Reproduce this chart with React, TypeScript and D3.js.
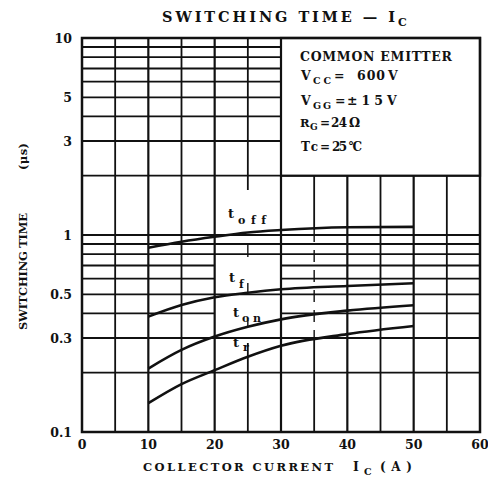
import React from "react";
import * as d3 from "d3";

const current = [10, 15, 20, 25, 30, 40, 50];
const tOff = [0.862, 0.925, 0.98, 1.03, 1.06, 1.094, 1.1];
const tF = [0.385, 0.441, 0.483, 0.509, 0.53, 0.551, 0.569];
const tOn = [0.21, 0.261, 0.305, 0.342, 0.373, 0.413, 0.44];
const tR = [0.14, 0.175, 0.206, 0.241, 0.274, 0.314, 0.345];

const xTicks = [0, 10, 20, 30, 40, 50, 60];
const xGrid = [5, 10, 15, 20, 25, 30, 35, 40, 45, 50, 55];
const yTickVals = [10, 5, 3, 1, 0.5, 0.3, 0.1];
const yTickLabels = ["10", "5", "3", "1", "0.5", "0.3", "0.1"];
const yGridLow = [0.2, 0.3, 0.4, 0.5, 0.6, 0.7, 0.8, 0.9, 1];
const yGridHigh = [2, 3, 4, 5, 6, 7, 8, 9];
const gappedLow = [0.4, 0.6, 0.7];

const W = 488;
const H = 485;
const FONT = "'DejaVu Serif', 'Liberation Serif', serif";

export default function App() {
  const x = d3.scaleLinear().domain([0, 60]).range([82, 480]);
  const y = d3.scaleLog().domain([0.1, 10]).range([432, 38]);
  const line = d3
    .line<[number, number]>()
    .x((d) => x(d[0]))
    .y((d) => y(d[1]))
    .curve(d3.curveMonotoneX);
  const series = [tOff, tF, tOn, tR];
  const gridStroke = 1.8;
  const txt = {
    fontFamily: FONT,
    fontWeight: 700,
    fill: "#111",
    style: { fontVariantLigatures: "none" as const },
  };

  const hLines: React.ReactNode[] = [];
  yGridLow.forEach((v, i) => {
    if (gappedLow.includes(v)) {
      hLines.push(<line key={"hl" + i + "a"} x1={x(0)} x2={x(20)} y1={y(v)} y2={y(v)} stroke="#111" strokeWidth={gridStroke} />);
      hLines.push(<line key={"hl" + i + "b"} x1={x(30)} x2={x(60)} y1={y(v)} y2={y(v)} stroke="#111" strokeWidth={gridStroke} />);
    } else {
      hLines.push(<line key={"hl" + i} x1={x(0)} x2={x(60)} y1={y(v)} y2={y(v)} stroke="#111" strokeWidth={gridStroke} />);
    }
  });
  yGridHigh.forEach((v, i) => {
    hLines.push(<line key={"hh" + i} x1={x(0)} x2={v === 2 ? x(60) : x(30)} y1={y(v)} y2={y(v)} stroke="#111" strokeWidth={gridStroke} />);
  });

  const vLines: React.ReactNode[] = [];
  xGrid.forEach((v, i) => {
    const top = v >= 30 ? y(2) : y(10);
    if (v === 25) {
      vLines.push(<line key={"v" + i + "a"} x1={x(v)} x2={x(v)} y1={top} y2={190} stroke="#111" strokeWidth={gridStroke} />);
      vLines.push(<line key={"v" + i + "b"} x1={x(v)} x2={x(v)} y1={243} y2={343} stroke="#111" strokeWidth={1.4} strokeDasharray="14 26 10 27 7 26" />);
      vLines.push(<line key={"v" + i + "c"} x1={x(v)} x2={x(v)} y1={343} y2={y(0.1)} stroke="#111" strokeWidth={gridStroke} />);
    } else if (v === 35) {
      vLines.push(<line key={"v" + i + "a"} x1={x(v)} x2={x(v)} y1={top} y2={230} stroke="#111" strokeWidth={gridStroke} />);
      vLines.push(<line key={"v" + i + "b"} x1={x(v)} x2={x(v)} y1={230} y2={340} stroke="#111" strokeWidth={1.4} strokeDasharray="12 8" />);
      vLines.push(<line key={"v" + i + "c"} x1={x(v)} x2={x(v)} y1={340} y2={y(0.1)} stroke="#111" strokeWidth={gridStroke} />);
    } else {
      vLines.push(<line key={"v" + i} x1={x(v)} x2={x(v)} y1={top} y2={y(0.1)} stroke="#111" strokeWidth={v % 10 === 0 ? 2.2 : gridStroke} />);
    }
  });

  return (
    <svg width={W} height={H} style={{ display: "block", position: "absolute", left: 0, top: 0 }}>
      <rect x={0} y={0} width={W} height={H} fill="#fff" />
      {/* title */}
      <text x={162} y={22} fontSize={14.5} textLength={233} lengthAdjust="spacing" {...txt}>
        SWITCHING TIME — I
      </text>
      <text x={398} y={26} fontSize={11} {...txt}>C</text>

      {/* grid */}
      {hLines}
      {vLines}

      {/* legend box */}
      <rect x={x(30)} y={y(10)} width={x(60) - x(30)} height={y(2) - y(10)} fill="#fff" stroke="#111" strokeWidth={2.2} />

      {/* frame */}
      <rect x={x(0)} y={y(10)} width={x(60) - x(0)} height={y(0.1) - y(10)} fill="none" stroke="#111" strokeWidth={2.5} />

      {/* curves */}
      {series.map((s, i) => (
        <path
          key={"c" + i}
          d={line(current.map((c, j) => [c, s[j]] as [number, number])) || ""}
          fill="none"
          stroke="#111"
          strokeWidth={2.6}
        />
      ))}

      {/* curve labels */}
      <text x={228} y={218} fontSize={13} {...txt}>t</text>
      <text x={238} y={224} fontSize={11} textLength={28} lengthAdjust="spacing" {...txt}>off</text>
      <text x={229} y={282} fontSize={13} {...txt}>t</text>
      <text x={239} y={288} fontSize={11} {...txt}>f</text>
      <text x={233} y={317} fontSize={13} {...txt}>t</text>
      <text x={242} y={322} fontSize={11} textLength={19} lengthAdjust="spacing" {...txt}>on</text>
      <text x={233} y={347} fontSize={13} {...txt}>t</text>
      <text x={243} y={351} fontSize={11} {...txt}>r</text>

      {/* legend text */}
      <text x={300} y={61} fontSize={12.5} textLength={152} lengthAdjust="spacing" {...txt}>COMMON EMITTER</text>
      <text x={301} y={80} fontSize={12.5} {...txt}>V</text>
      <text x={313} y={84} fontSize={9.5} textLength={18} lengthAdjust="spacing" {...txt}>CC</text>
      <text x={334} y={80} fontSize={12.5} {...txt}>=</text>
      <text x={357} y={80} fontSize={12.5} textLength={28} lengthAdjust="spacing" {...txt}>600</text>
      <text x={388} y={80} fontSize={12.5} {...txt}>V</text>
      <text x={301} y={105} fontSize={12.5} {...txt}>V</text>
      <text x={313} y={109} fontSize={9.5} textLength={18} lengthAdjust="spacing" {...txt}>GG</text>
      <text x={335} y={105} fontSize={12.5} {...txt}>=</text>
      <text x={347} y={105} fontSize={12.5} textLength={36} lengthAdjust="spacing" {...txt}>±15</text>
      <text x={387} y={105} fontSize={12.5} {...txt}>V</text>
      <text x={300} y={127} fontSize={11.5} {...txt}>R</text>
      <text x={310} y={130} fontSize={9} {...txt}>G</text>
      <text x={320} y={127} fontSize={12} {...txt}>=</text>
      <text x={331} y={127} fontSize={12} textLength={16} lengthAdjust="spacing" {...txt}>24</text>
      <text x={349} y={127} fontSize={12.5} {...txt}>Ω</text>
      <text x={301} y={151} fontSize={12} textLength={17} lengthAdjust="spacing" {...txt}>Tc</text>
      <text x={320} y={151} fontSize={12} {...txt}>=</text>
      <text x={332} y={151} fontSize={12} textLength={15} lengthAdjust="spacing" {...txt}>25</text>
      <text x={348} y={151} fontSize={12} textLength={14} lengthAdjust="spacing" {...txt}>°C</text>

      {/* y tick labels */}
      {yTickVals.map((v, i) => (
        <text key={"yt" + i} x={72} y={y(v)} fontSize={12.5} textAnchor="end" dominantBaseline="central" {...txt}>
          {yTickLabels[i]}
        </text>
      ))}

      {/* x tick labels */}
      {xTicks.map((v, i) => (
        <text key={"xt" + i} x={x(v)} y={444} fontSize={12.5} textAnchor="middle" dominantBaseline="central" {...txt}>
          {v}
        </text>
      ))}

      {/* x axis label */}
      <text x={143} y={471} fontSize={11.5} textLength={190} lengthAdjust="spacing" {...txt}>COLLECTOR CURRENT</text>
      <text x={353} y={471} fontSize={12.5} {...txt}>I</text>
      <text x={364} y={475} fontSize={9.5} {...txt}>C</text>
      <text x={380} y={471} fontSize={12} textLength={32} lengthAdjust="spacing" {...txt}>(A)</text>

      {/* y axis label */}
      <text transform="translate(27,330) rotate(-90)" x={0} y={0} fontSize={11.5} textLength={117} lengthAdjust="spacing" {...txt}>
        SWITCHING TIME
      </text>
      <text transform="translate(27,170) rotate(-90)" x={0} y={0} fontSize={11.5} textLength={27} lengthAdjust="spacing" {...txt}>
        (μs)
      </text>
    </svg>
  );
}
